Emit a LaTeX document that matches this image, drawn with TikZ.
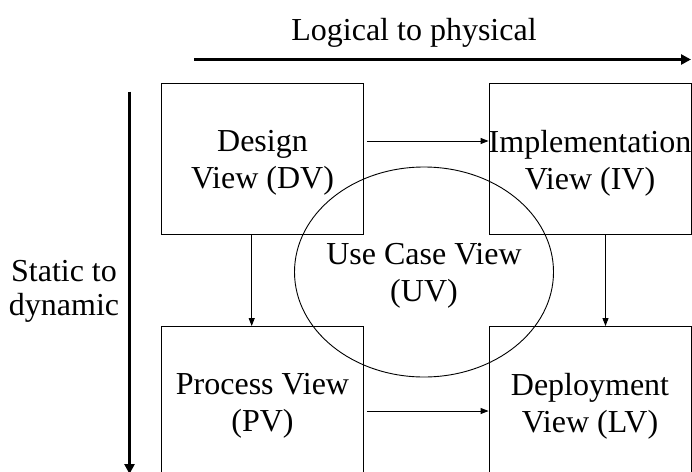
\documentclass[tikz,border=0pt]{standalone}
\usepackage{fontspec}
\setmainfont{Liberation Serif}
\usetikzlibrary{arrows.meta,shapes.geometric}
\begin{document}
\begin{tikzpicture}[x=1pt,y=-1pt,
  lbl/.style={font=\fontsize{32}{37}\selectfont, align=center, inner sep=0pt},
  viewbox/.style={draw, line width=0.9pt, minimum width=202pt, minimum height=150.5pt, inner sep=0pt},
  flow/.style={draw, line width=0.9pt, -{Triangle[length=8pt,width=6pt]}},
  axis/.style={draw, line width=3pt, -{Triangle[length=10pt,width=10pt]}}]
\useasboundingbox (0,0) rectangle (692,471);
\clip (0,0) rectangle (692,471);

% the four views
\node[viewbox] (DV) at (262.5,158.75) {};
\node[viewbox] (IV) at (590,158.75) {};
\node[viewbox] (PV) at (262.5,401.75) {};
\node[viewbox] (LV) at (590,401.75) {};
\node[lbl] (DVt) at ([yshift=-4.5pt]DV.center) {Design\\View (DV)};
\node[lbl] (IVt) at ([yshift=-4.5pt]IV.center) {Implementation\\View (IV)};
\node[lbl] (PVt) at ([yshift=-4.5pt]PV.center) {Process View\\(PV)};
\node[lbl] (LVt) at ([yshift=-4.5pt]LV.center) {Deployment\\View (LV)};

% use case view in the middle
\node[draw, ellipse, line width=0.9pt, minimum width=259pt, minimum height=210pt, inner sep=0pt] (UV) at (424,272) {};
\node[lbl] (UVt) at ([yshift=-4pt]UV.center) {Use Case View\\(UV)};

% flows between the views
\draw[flow, shorten <=3pt] ([yshift=17.75pt]DV.east) -- ([yshift=17.75pt]IV.west);
\draw[flow, shorten <=3pt] ([yshift=-9.25pt]PV.east) -- ([yshift=-9.25pt]LV.west);
\draw[flow] ([xshift=-10.8pt]DV.south) -- ([xshift=-10.8pt]PV.north);
\draw[flow] ([xshift=15.5pt]IV.south) -- ([xshift=15.5pt]LV.north);

% axes
\coordinate (lpA) at (194,59.5);
\coordinate (lpB) at (691,59.5);
\draw[axis] (lpA) -- (lpB);
\node[lbl, anchor=base] (lptext) at (414,40) {Logical to physical};

\coordinate (sdA) at (129.5,91.5);
\coordinate (sdB) at (129.5,474);
\draw[axis] (sdA) -- (sdB);
\node[lbl, font=\fontsize{32}{34}\selectfont] (sdtext) at (64,291) {Static to\\dynamic};
\end{tikzpicture}
\end{document}
